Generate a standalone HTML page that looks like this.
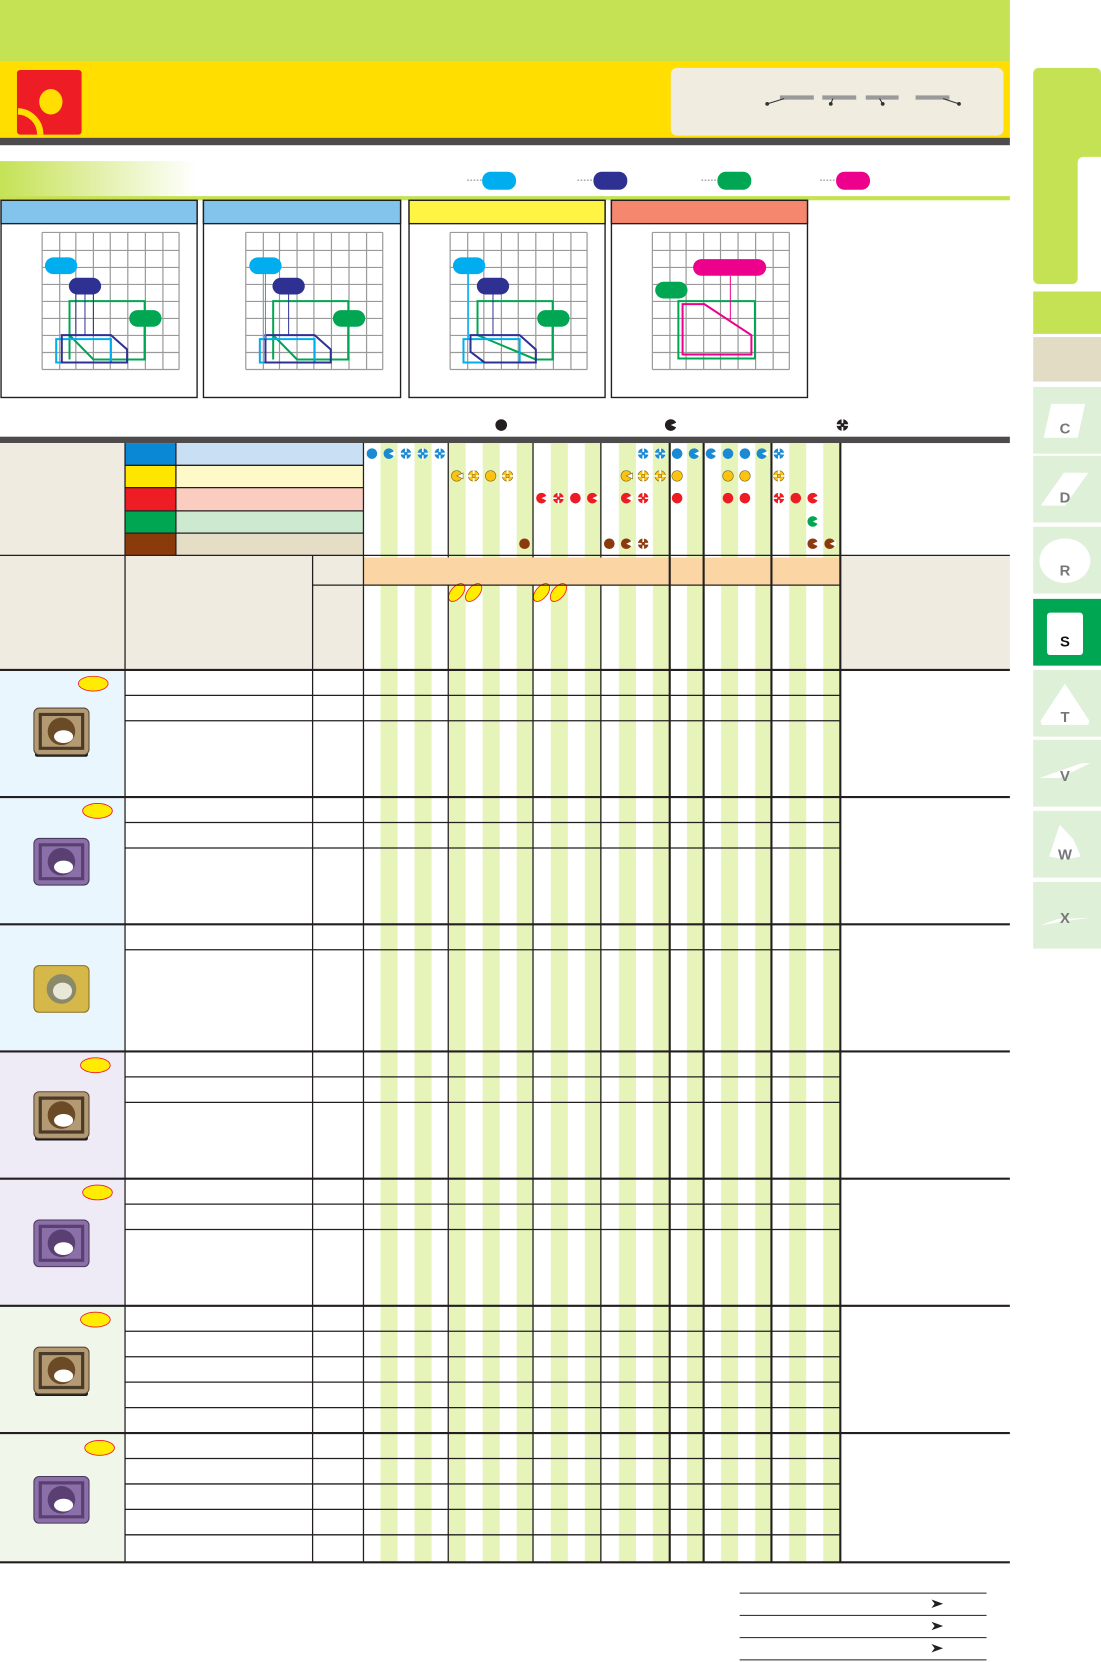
<!DOCTYPE html>
<html><head><meta charset="utf-8"><style>
html,body{margin:0;padding:0;background:#fff;width:1101px;height:1662px;overflow:hidden}
svg{display:block}
</style></head><body>
<svg width="1101" height="1662" viewBox="0 0 1039 1568" preserveAspectRatio="none" xmlns="http://www.w3.org/2000/svg">
<defs>
<linearGradient id="gb" x1="0" x2="1"><stop offset="0" stop-color="#c5e255"/><stop offset="1" stop-color="#fff"/></linearGradient>
<pattern id="st" x="343" y="0" width="32.14" height="10" patternUnits="userSpaceOnUse"><rect x="16.07" y="0" width="16.07" height="10" fill="#e6f3b9"/></pattern>
<g id="full"><circle r="5"/></g>
<g id="pac"><circle r="5"/><polygon points="0,0 6,-2.8 6,2.8" fill="#fff"/></g>
<g id="crs"><circle r="5"/><path d="M-5.5,0H5.5M0,-5.5V5.5" stroke="#fff" stroke-width="1.6"/><circle r="1.6"/></g>
<g id="ov"><ellipse rx="14" ry="7" fill="#ffec00" stroke="#ee1c25" stroke-width="0.8"/></g>
<g id="ovs"><ellipse rx="5.5" ry="10" transform="rotate(40)" fill="#ffec00" stroke="#ee1c25" stroke-width="0.8"/></g>
</defs>

<rect x="0" y="0" width="953" height="58" fill="#c5e255"/>
<rect x="0" y="58" width="953" height="72" fill="#ffde00"/>
<rect x="16" y="66" width="61" height="61" rx="3" fill="#ee1c25"/>
<ellipse cx="48" cy="96" rx="11" ry="12" fill="#ffde00"/>
<path d="M17,105 A22,22 0 0 1 38,127" stroke="#ffde00" stroke-width="6" fill="none"/>
<rect x="633" y="64" width="314" height="64" rx="6" fill="#f0ece0"/>
<g fill="#9a9a9a"><rect x="736" y="90" width="32" height="4"/><rect x="776" y="90" width="32" height="4"/><rect x="817" y="90" width="31" height="4"/><rect x="864" y="90" width="32" height="4"/></g>
<g stroke="#333" stroke-width="1" fill="#333"><path d="M724,98 L740,93" /><circle cx="724" cy="98" r="1.3"/><path d="M786,93 L784,98"/><circle cx="784" cy="98" r="1.3"/><path d="M830,93 L833,98"/><circle cx="833" cy="98" r="1.3"/><path d="M890,93 L905,98"/><circle cx="905" cy="98" r="1.3"/></g>
<rect x="0" y="130" width="953" height="7" fill="#4d4b4c"/>

<rect x="0" y="152" width="185" height="34" fill="url(#gb)"/>
<rect x="0" y="185" width="953" height="4" fill="#c5e255"/>
<g stroke="#888" stroke-width="1" stroke-dasharray="1.5,1.5"><path d="M441,170H455M545,170H559M662,170H677M774,170H789"/></g>
<rect x="455" y="162" width="32" height="17" rx="8" fill="#00aeef"/>
<rect x="560" y="162" width="32" height="17" rx="8" fill="#2e3192"/>
<rect x="677" y="162" width="32" height="17" rx="8" fill="#00a651"/>
<rect x="789" y="162" width="32" height="17" rx="8" fill="#ec008c"/>

<path d="M981,64 H1033 Q1039,64 1039,70 V148 H1023 Q1017,148 1017,154 V262 Q1017,268 1011,268 H981 Q975,268 975,262 V70 Q975,64 981,64Z" fill="#c5e255"/>
<rect x="975" y="275" width="64" height="40" fill="#c5e255"/>
<rect x="975" y="318" width="64" height="42" fill="#e3dcc5"/>
<g fill="#dff0d8">
<rect x="975" y="365" width="64" height="63"/><rect x="975" y="430" width="64" height="63"/><rect x="975" y="497" width="64" height="63"/>
<rect x="975" y="632" width="64" height="63"/><rect x="975" y="698" width="64" height="63"/><rect x="975" y="765" width="64" height="63"/><rect x="975" y="832" width="64" height="63"/></g>
<rect x="975" y="565" width="64" height="63" fill="#00a651"/>
<g fill="#fff">
<polygon points="992,381 1024,381 1017,413 985,413"/>
<polygon points="1004,446 1027,446 1005,477 982,477"/>
<ellipse cx="1005" cy="529" rx="24" ry="21"/>
<rect x="988" y="578" width="34" height="40" rx="3"/>
<polygon points="1005,645 1028,680 1027,684 983,684 982,680"/>
<polygon points="1021,720 1029,720 1000,734 981,734"/>
<polygon points="1000,778 1013,792 1020,808 1005,811 990,808 996,790"/>
<polygon points="1028,866 1012,868 982,873 998,867"/>
</g>
<g font-family="Liberation Sans, sans-serif" font-weight="bold" font-size="14" fill="#777" text-anchor="middle">
<text x="1005" y="409">C</text><text x="1005" y="474">D</text><text x="1005" y="543">R</text><text x="1005" y="610" fill="#111">S</text><text x="1005" y="681">T</text><text x="1005" y="737">V</text><text x="1005" y="811">W</text><text x="1005" y="871">X</text></g>

<g stroke="#231f20" stroke-width="1.3" fill="#fff">
<rect x="1" y="189" width="185" height="186"/><rect x="192" y="189" width="186" height="186"/><rect x="386" y="189" width="185" height="186"/><rect x="577" y="189" width="185" height="186"/></g>
<g stroke="#231f20" stroke-width="1.3">
<rect x="1" y="189" width="185" height="22" fill="#82c4ec"/><rect x="192" y="189" width="186" height="22" fill="#82c4ec"/><rect x="386" y="189" width="185" height="22" fill="#fff444"/><rect x="577" y="189" width="185" height="22" fill="#f5876e"/></g>

<g transform="scale(0.6627,0.3146)">
<g id="grid" stroke="#9a9a9a" stroke-width="1.2" fill="none">
<path vector-effect="non-scaling-stroke" d="M60,697V1108M85,697V1108M108,697V1108M133,697V1108M157,697V1108M182,697V1108M207,697V1108M232,697V1108M255,697V1108M60,697H255M60,751H255M60,802H255M60,853H255M60,904H255M60,955H255M60,1006H255M60,1057H255M60,1108H255"/>
</g>
<use href="#grid" x="290"/><use href="#grid" x="581"/><use href="#grid" x="869"/>
<g fill="none" stroke-width="2">
<path vector-effect="non-scaling-stroke" d="M99,1078V903H206V1078H133L99,1005" stroke="#00a651"/>
<path vector-effect="non-scaling-stroke" d="M80,1017H158V1087H80Z" stroke="#00aeef"/>
<path vector-effect="non-scaling-stroke" d="M88,1005H158L181,1048V1087H88Z" stroke="#2e3192"/>
<path vector-effect="non-scaling-stroke" d="M108,870V1005M121,870V1005M133,870V1005" stroke="#2e3192" stroke-width="1"/>
<path vector-effect="non-scaling-stroke" d="M389,1078V903H496V1078H423L389,1005" stroke="#00a651"/>
<path vector-effect="non-scaling-stroke" d="M370,1017H448V1087H370Z" stroke="#00aeef"/>
<path vector-effect="non-scaling-stroke" d="M378,1005H448L471,1048V1087H378Z" stroke="#2e3192"/>
<path vector-effect="non-scaling-stroke" d="M378,810V1017" stroke="#00aeef" stroke-width="1"/>
<path vector-effect="non-scaling-stroke" d="M411,870V1005" stroke="#2e3192" stroke-width="1"/>
<path vector-effect="non-scaling-stroke" d="M680,1005V903H787V1078H763L680,1005" stroke="#00a651"/>
<path vector-effect="non-scaling-stroke" d="M660,1017H740V1087H660Z" stroke="#00aeef"/>
<path vector-effect="non-scaling-stroke" d="M670,1005H740L763,1048V1087H690L670,1055Z" stroke="#2e3192"/>
<path vector-effect="non-scaling-stroke" d="M667,810V1017" stroke="#00aeef" stroke-width="1"/>
<path vector-effect="non-scaling-stroke" d="M702,870V1005" stroke="#2e3192" stroke-width="1"/>
<path vector-effect="non-scaling-stroke" d="M966,903H1075V1075H966Z" stroke="#00a651"/>
<path vector-effect="non-scaling-stroke" d="M972,912H1003L1070,1005V1063H972Z" stroke="#ec008c"/>
<path vector-effect="non-scaling-stroke" d="M1040,828V960" stroke="#ec008c" stroke-width="1"/>
</g>
<path d="M206,955V1078M496,955V1078M787,955V1078" stroke="#00a651" stroke-width="2" vector-effect="non-scaling-stroke"/>
<g>
<rect x="64" y="772" width="46" height="50" rx="12" ry="25" fill="#00aeef"/>
<rect x="98" y="833" width="46" height="50" rx="12" ry="25" fill="#2e3192"/>
<rect x="184" y="930" width="46" height="50" rx="12" ry="25" fill="#00a651"/>
<rect x="355" y="772" width="46" height="50" rx="12" ry="25" fill="#00aeef"/>
<rect x="388" y="833" width="46" height="50" rx="12" ry="25" fill="#2e3192"/>
<rect x="474" y="930" width="46" height="50" rx="12" ry="25" fill="#00a651"/>
<rect x="645" y="772" width="46" height="50" rx="12" ry="25" fill="#00aeef"/>
<rect x="679" y="833" width="46" height="50" rx="12" ry="25" fill="#2e3192"/>
<rect x="765" y="930" width="46" height="50" rx="12" ry="25" fill="#00a651"/>
<rect x="987" y="777" width="104" height="50" rx="12" ry="25" fill="#ec008c"/>
<rect x="933" y="845" width="46" height="50" rx="12" ry="25" fill="#00a651"/>
</g>
</g>

<g fill="#231f20"><circle cx="473" cy="401" r="5.5"/><circle cx="633" cy="401" r="5.5"/><polygon points="633,401 640,398 640,404" fill="#fff"/><g transform="translate(795,401)"><circle r="5.5"/><path d="M-6,0H6M0,-6V6" stroke="#fff" stroke-width="1.6"/><circle r="1.8"/></g></g>
<rect x="0" y="412" width="953" height="6" fill="#4d4b4c"/>

<rect x="0" y="418" width="118" height="214" fill="#efebe1"/>
<rect x="118" y="418" width="48" height="21" fill="#0a88d6"/>
<rect x="118" y="439" width="48" height="21" fill="#ffe600"/>
<rect x="118" y="460" width="48" height="22" fill="#ee1c25"/>
<rect x="118" y="482" width="48" height="21" fill="#00a651"/>
<rect x="118" y="503" width="48" height="21" fill="#8b3a0b"/>
<rect x="166" y="418" width="177" height="21" fill="#c9dff3"/>
<rect x="166" y="439" width="177" height="21" fill="#fdf9c9"/>
<rect x="166" y="460" width="177" height="22" fill="#fbcdc0"/>
<rect x="166" y="482" width="177" height="21" fill="#cde9cf"/>
<rect x="166" y="503" width="177" height="21" fill="#e5ddc5"/>
<rect x="118" y="524" width="225" height="108" fill="#efebe1"/>
<rect x="793" y="524" width="160" height="108" fill="#efebe1"/>
<rect x="343" y="418" width="450" height="1056" fill="url(#st)"/>
<rect x="343" y="526" width="450" height="26" fill="#fbd6a4"/>

<rect x="0" y="632" width="118" height="360" fill="#eaf6fd"/>
<rect x="0" y="992" width="118" height="240" fill="#efebf6"/>
<rect x="0" y="1232" width="118" height="242" fill="#f0f6ea"/>

<g id="ins1" transform="translate(58,692)">
<rect x="-25" y="8" width="50" height="14" rx="2" fill="#1a1a1a"/>
<rect x="-26" y="-24" width="52" height="44" rx="5" fill="#b49a72" stroke="#5a4a3a" stroke-width="1"/>
<path d="M-20,-18H20V14H-20Z" fill="none" stroke="#4a3a2a" stroke-width="3"/>
<circle cx="0" cy="-2" r="13" fill="#6b4a26"/>
<ellipse cx="2" cy="3" rx="9" ry="6" fill="#fff"/>
</g>
<g transform="translate(58,815)">
<rect x="-25" y="8" width="50" height="12" rx="2" fill="#3a2a4a"/>
<rect x="-26" y="-24" width="52" height="44" rx="5" fill="#8a6fa8" stroke="#4a3a5a" stroke-width="1"/>
<path d="M-20,-18H20V14H-20Z" fill="none" stroke="#5a4070" stroke-width="3"/>
<circle cx="0" cy="-2" r="13" fill="#5a3f73"/>
<ellipse cx="2" cy="3" rx="9" ry="6" fill="#fff"/>
</g>
<g transform="translate(58,935)">
<rect x="-25" y="8" width="50" height="12" rx="2" fill="#8a7020"/>
<rect x="-26" y="-24" width="52" height="44" rx="5" fill="#d6b84a" stroke="#8a7020" stroke-width="1"/>
<circle cx="0" cy="-2" r="14" fill="#8a8a6a"/>
<ellipse cx="1" cy="0" rx="9" ry="8" fill="#e8e8d8"/>
</g>
<use href="#ins1" y="362"/>
<g transform="translate(58,1175)">
<rect x="-25" y="8" width="50" height="12" rx="2" fill="#3a2a4a"/>
<rect x="-26" y="-24" width="52" height="44" rx="5" fill="#8a6fa8" stroke="#4a3a5a" stroke-width="1"/>
<path d="M-20,-18H20V14H-20Z" fill="none" stroke="#5a4070" stroke-width="3"/>
<circle cx="0" cy="-2" r="13" fill="#5a3f73"/>
<ellipse cx="2" cy="3" rx="9" ry="6" fill="#fff"/>
</g>
<use href="#ins1" y="603"/>
<g transform="translate(58,1417)">
<rect x="-25" y="8" width="50" height="12" rx="2" fill="#3a2a4a"/>
<rect x="-26" y="-24" width="52" height="44" rx="5" fill="#8a6fa8" stroke="#4a3a5a" stroke-width="1"/>
<path d="M-20,-18H20V14H-20Z" fill="none" stroke="#5a4070" stroke-width="3"/>
<circle cx="0" cy="-2" r="13" fill="#5a3f73"/>
<ellipse cx="2" cy="3" rx="9" ry="6" fill="#fff"/>
</g>
<use href="#ov" x="88" y="645"/><use href="#ov" x="92" y="765"/><use href="#ov" x="90" y="1005"/><use href="#ov" x="92" y="1125"/><use href="#ov" x="90" y="1245"/><use href="#ov" x="94" y="1366"/>
<use href="#ovs" x="431" y="559"/><use href="#ovs" x="447" y="559"/><use href="#ovs" x="511" y="559"/><use href="#ovs" x="527" y="559"/>

<g stroke="#231f20" stroke-width="1.2" fill="none">
<path d="M118,418V1474M166,418V524M295,524V1474M343,418V1474M793,418V1474M423,418V526M423,552V1474M503,418V526M503,552V1474M567,418V526M567,552V1474"/>
<path d="M118,439H343M118,460H343M118,482H343M118,503H343M0,524H953M295,552H793"/>
<path d="M118,656H793M118,680H793M118,776H793M118,800H793M118,896H793M118,1016H793M118,1040H793M118,1136H793M118,1160H793M118,1256H793M118,1280H793M118,1304H793M118,1328H793M118,1376H793M118,1400H793M118,1424H793M118,1448H793"/>
</g>
<g stroke="#231f20" stroke-width="2" fill="none">
<path d="M632,418V1474M664,418V1474M728,418V1474M793,418V1474"/>
<path d="M0,632H953M0,752H953M0,872H953M0,992H953M0,1112H953M0,1232H953M0,1352H953M0,1474H953"/>
</g>

<g fill="#1a8ad4">
<use href="#full" x="351" y="428"/><use href="#pac" x="367" y="428"/><use href="#crs" x="383" y="428"/><use href="#crs" x="399" y="428"/><use href="#crs" x="415" y="428"/>
<use href="#crs" x="607" y="428"/><use href="#crs" x="623" y="428"/><use href="#full" x="639" y="428"/><use href="#pac" x="655" y="428"/>
<use href="#pac" x="671" y="428"/><use href="#full" x="687" y="428"/><use href="#full" x="703" y="428"/><use href="#pac" x="719" y="428"/><use href="#crs" x="735" y="428"/>
</g>
<g fill="#fcc30f" stroke="#6a5a20" stroke-width="0.5">
<use href="#pac" x="431" y="449"/><use href="#crs" x="447" y="449"/><use href="#full" x="463" y="449"/><use href="#crs" x="479" y="449"/>
<use href="#pac" x="591" y="449"/><use href="#crs" x="607" y="449"/><use href="#crs" x="623" y="449"/><use href="#full" x="639" y="449"/>
<use href="#full" x="687" y="449"/><use href="#full" x="703" y="449"/><use href="#crs" x="735" y="449"/>
</g>
<g fill="#ed1c24">
<use href="#pac" x="511" y="470"/><use href="#crs" x="527" y="470"/><use href="#full" x="543" y="470"/><use href="#pac" x="559" y="470"/>
<use href="#pac" x="591" y="470"/><use href="#crs" x="607" y="470"/><use href="#full" x="639" y="470"/>
<use href="#full" x="687" y="470"/><use href="#full" x="703" y="470"/><use href="#crs" x="735" y="470"/><use href="#full" x="751" y="470"/><use href="#pac" x="767" y="470"/>
</g>
<g fill="#00a651"><use href="#pac" x="767" y="492"/></g>
<g fill="#8b3a0e">
<use href="#full" x="495" y="513"/><use href="#full" x="575" y="513"/><use href="#pac" x="591" y="513"/><use href="#crs" x="607" y="513"/><use href="#pac" x="767" y="513"/><use href="#pac" x="783" y="513"/>
</g>

<g stroke="#231f20" stroke-width="1"><path d="M698,1503H931M698,1524H931M698,1545H931M698,1566H931"/></g>
<g fill="#231f20"><polygon points="879,1509 890,1513 879,1517 882,1513"/><polygon points="879,1530 890,1534 879,1538 882,1534"/><polygon points="879,1551 890,1555 879,1559 882,1555"/></g>
</svg>
</body></html>
